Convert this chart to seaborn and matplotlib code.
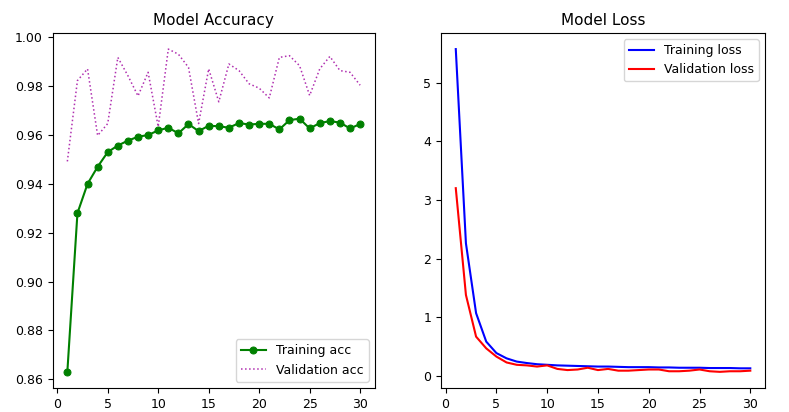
import matplotlib
matplotlib.use("Agg")
import matplotlib.pyplot as plt
import seaborn as sns
import pandas as pd

epochs = list(range(1, 31))
train_acc = [0.863, 0.928, 0.940, 0.947, 0.953, 0.9557, 0.9577, 0.9593, 0.9600, 0.9619,
             0.9630, 0.9607, 0.9645, 0.9616, 0.9638, 0.9636, 0.9630, 0.9649, 0.9643, 0.9646,
             0.9646, 0.9623, 0.9661, 0.9667, 0.9627, 0.9649, 0.9657, 0.9651, 0.9627, 0.9645]
val_acc = [0.9492, 0.9823, 0.9871, 0.9598, 0.9647, 0.9918, 0.9843, 0.9760, 0.9857, 0.9634,
           0.9952, 0.9931, 0.9877, 0.9647, 0.9871, 0.9736, 0.9891, 0.9864, 0.9810, 0.9792,
           0.9752, 0.9918, 0.9925, 0.9884, 0.9762, 0.9871, 0.9922, 0.9864, 0.9857, 0.9804]
train_loss = [5.57, 2.26, 1.07, 0.585, 0.39, 0.30, 0.245, 0.22, 0.20, 0.19,
              0.18, 0.175, 0.17, 0.165, 0.16, 0.16, 0.155, 0.15, 0.15, 0.15,
              0.145, 0.145, 0.14, 0.14, 0.14, 0.135, 0.135, 0.135, 0.13, 0.13]
val_loss = [3.20, 1.38, 0.67, 0.47, 0.33, 0.23, 0.19, 0.18, 0.16, 0.18,
            0.12, 0.10, 0.11, 0.14, 0.10, 0.12, 0.09, 0.09, 0.10, 0.11,
            0.11, 0.08, 0.08, 0.09, 0.11, 0.08, 0.07, 0.08, 0.08, 0.09]

df = pd.DataFrame({"epoch": epochs, "train_acc": train_acc, "val_acc": val_acc,
                   "train_loss": train_loss, "val_loss": val_loss})

fig = plt.figure(figsize=(7.89, 4.12), dpi=100)
ax1 = fig.add_axes([0.0668, 0.0583, 0.4082, 0.8617])
ax2 = fig.add_axes([0.559, 0.0583, 0.4106, 0.8617])

sns.lineplot(data=df, x="epoch", y="train_acc", ax=ax1, color="green", marker="o",
             markersize=5, markeredgecolor="green", linewidth=1.5, label="Training acc")
sns.lineplot(data=df, x="epoch", y="val_acc", ax=ax1, color="#b030b0", linestyle=":",
             linewidth=1.1, label="Validation acc")
ax1.set_title("Model Accuracy", fontsize=11)
ax1.legend(loc="lower right", fontsize=9)

sns.lineplot(data=df, x="epoch", y="train_loss", ax=ax2, color="blue", linewidth=1.5,
             label="Training loss")
sns.lineplot(data=df, x="epoch", y="val_loss", ax=ax2, color="red", linewidth=1.5,
             label="Validation loss")
ax2.set_title("Model Loss", fontsize=11)
ax2.legend(loc="upper right", fontsize=9)

for ax in (ax1, ax2):
    ax.set_xlabel("")
    ax.set_ylabel("")
    ax.tick_params(labelsize=9)
    ax.set_xticks([0, 5, 10, 15, 20, 25, 30])

ax1.set_yticks([0.86, 0.88, 0.90, 0.92, 0.94, 0.96, 0.98, 1.00])
ax1.set_yticklabels(["0.86", "0.88", "0.90", "0.92", "0.94", "0.96", "0.98", "1.00"])

fig.savefig("out.png", dpi=100)
